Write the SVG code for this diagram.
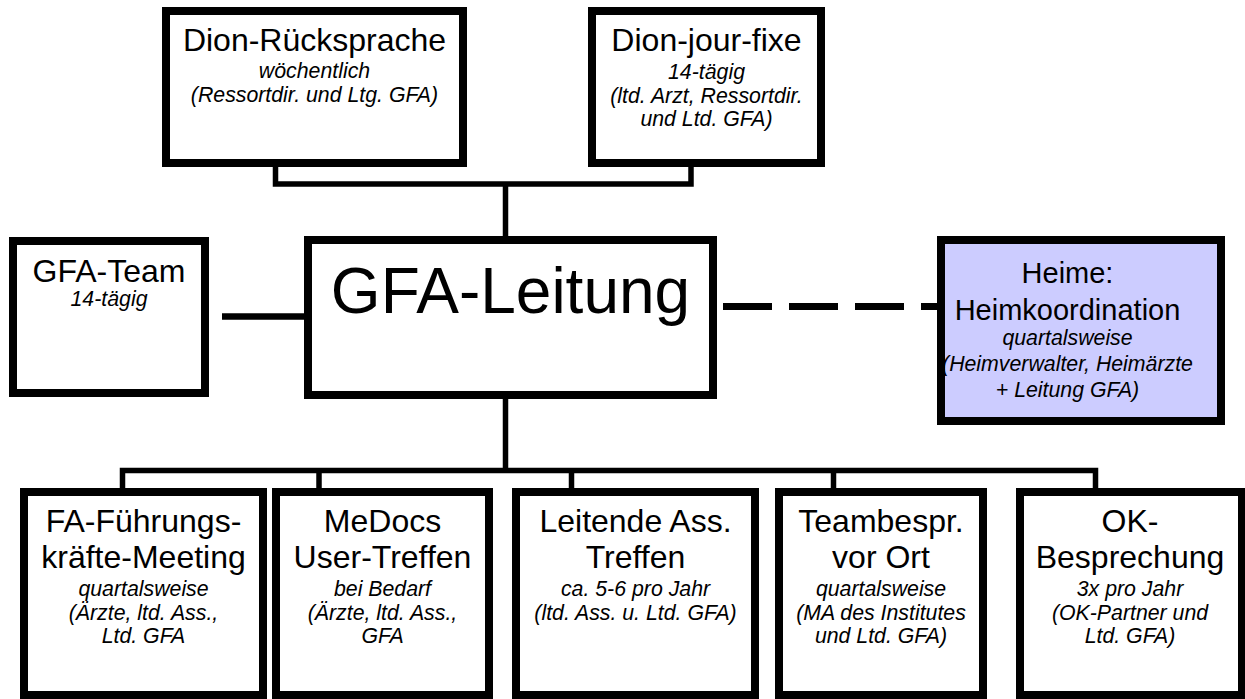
<svg xmlns="http://www.w3.org/2000/svg" width="1245" height="699" viewBox="0 0 1245 699">
  <style>
    .box { fill: #ffffff; stroke: #000000; stroke-width: 8; stroke-linejoin: miter; }
    .heim { fill: #ccccff; }
    .link { fill: none; stroke: #000000; stroke-width: 5.5; stroke-linejoin: miter; stroke-linecap: butt; }
    .dash { fill: none; stroke: #000000; stroke-width: 7; stroke-dasharray: 49 17; }
    text { font-family: "Liberation Sans", Arial, sans-serif; fill: #000000; text-anchor: middle; }
    .t { font-size: 32px; }
    .th { font-size: 29px; }
    .big { font-size: 64px; }
    .i { font-size: 21.3px; font-style: italic; }
  </style>

  <rect width="1245" height="699" fill="#ffffff"/>

  <!-- connectors -->
  <g id="connectors">
    <path class="link" d="M275.5 167 V184 H691 V167"/>
    <path class="link" d="M505.5 184 V236"/>
    <path class="link" d="M222 316.5 H304" style="stroke-width:6.5"/>
    <path class="dash" d="M723 306.5 H937"/>
    <path class="link" d="M505.5 399 V470.5"/>
    <path class="link" d="M122.5 488 V470.5 H1095.5 V488"/>
    <path class="link" d="M319 470.5 V488"/>
    <path class="link" d="M571.5 470.5 V488"/>
    <path class="link" d="M833.5 470.5 V488"/>
  </g>

  <!-- upper row -->
  <g id="dion-ruecksprache">
    <rect class="box" x="166" y="11" width="297" height="152"/>
    <text class="t" x="314.5" y="51">Dion-Rücksprache</text>
    <text class="i" x="314.5" y="78">wöchentlich</text>
    <text class="i" x="314.5" y="102">(Ressortdir. und Ltg. GFA)</text>
  </g>

  <g id="dion-jour-fixe">
    <rect class="box" x="592" y="11" width="229" height="152"/>
    <text class="t" x="706.5" y="51">Dion-jour-fixe</text>
    <text class="i" x="706.5" y="79">14-tägig</text>
    <text class="i" x="706.5" y="103">(ltd. Arzt, Ressortdir.</text>
    <text class="i" x="706.5" y="126">und Ltd. GFA)</text>
  </g>

  <!-- middle row -->
  <g id="gfa-team">
    <rect class="box" x="13" y="241" width="192" height="152"/>
    <text class="t" x="109" y="282">GFA-Team</text>
    <text class="i" x="109" y="306">14-tägig</text>
  </g>

  <g id="gfa-leitung">
    <rect class="box" x="308" y="240" width="405" height="155"/>
    <text class="big" x="510.5" y="313">GFA-Leitung</text>
  </g>

  <g id="heime">
    <rect class="box heim" x="941" y="240" width="280" height="181"/>
    <text class="th" x="1067.5" y="283">Heime:</text>
    <text class="th" x="1067.5" y="320">Heimkoordination</text>
    <text class="i" x="1067.5" y="345">quartalsweise</text>
    <text class="i" x="1067.5" y="371">(Heimverwalter, Heimärzte</text>
    <text class="i" x="1067.5" y="397">+ Leitung GFA)</text>
  </g>

  <!-- lower row -->
  <g id="fa-fuehrungskraefte">
    <rect class="box" x="24" y="492" width="239" height="203"/>
    <text class="t" x="143.5" y="532">FA-Führungs-</text>
    <text class="t" x="143.5" y="568">kräfte-Meeting</text>
    <text class="i" x="143.5" y="596">quartalsweise</text>
    <text class="i" x="143.5" y="620">(Ärzte, ltd. Ass.,</text>
    <text class="i" x="143.5" y="643">Ltd. GFA</text>
  </g>

  <g id="medocs">
    <rect class="box" x="276" y="492" width="213" height="203"/>
    <text class="t" x="382.5" y="532">MeDocs</text>
    <text class="t" x="382.5" y="568">User-Treffen</text>
    <text class="i" x="382.5" y="596">bei Bedarf</text>
    <text class="i" x="382.5" y="620">(Ärzte, ltd. Ass.,</text>
    <text class="i" x="382.5" y="643">GFA</text>
  </g>

  <g id="leitende-ass">
    <rect class="box" x="516" y="492" width="239" height="203"/>
    <text class="t" x="635.5" y="532">Leitende Ass.</text>
    <text class="t" x="635.5" y="568">Treffen</text>
    <text class="i" x="635.5" y="596">ca. 5-6 pro Jahr</text>
    <text class="i" x="635.5" y="620">(ltd. Ass. u. Ltd. GFA)</text>
  </g>

  <g id="teambesprechung">
    <rect class="box" x="779" y="492" width="204" height="203"/>
    <text class="t" x="881" y="532">Teambespr.</text>
    <text class="t" x="881" y="568">vor Ort</text>
    <text class="i" x="881" y="596">quartalsweise</text>
    <text class="i" x="881" y="620">(MA des Institutes</text>
    <text class="i" x="881" y="643">und Ltd. GFA)</text>
  </g>

  <g id="ok-besprechung">
    <rect class="box" x="1020" y="492" width="222" height="203"/>
    <text class="t" x="1130" y="532">OK-</text>
    <text class="t" x="1130" y="568">Besprechung</text>
    <text class="i" x="1130" y="596">3x pro Jahr</text>
    <text class="i" x="1130" y="620">(OK-Partner und</text>
    <text class="i" x="1130" y="643">Ltd. GFA)</text>
  </g>
</svg>
